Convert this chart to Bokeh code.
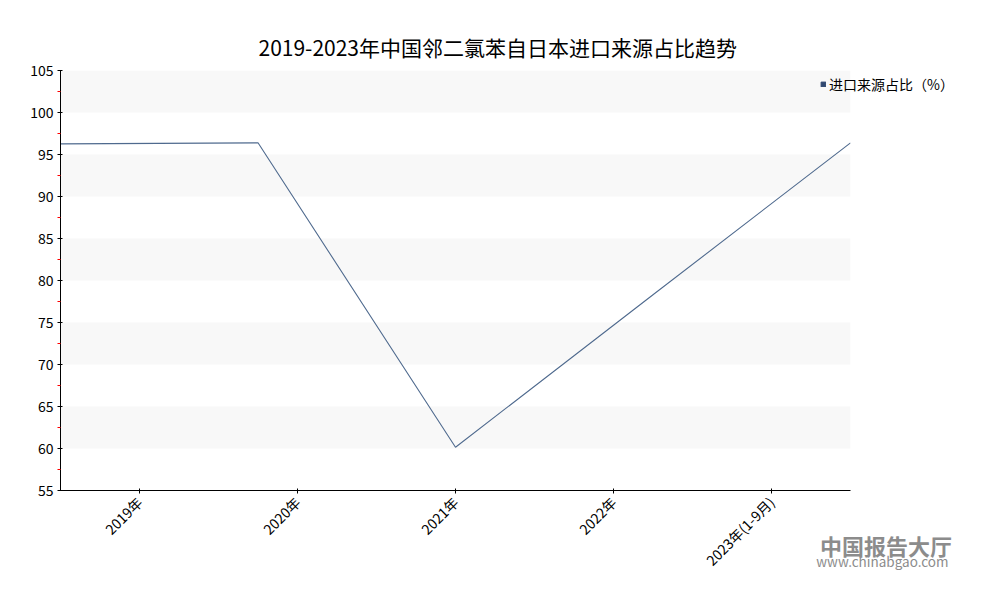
import math
from bokeh.plotting import figure
from bokeh.models import (Range1d, FixedTicker, Legend, LegendItem, Title, ColumnDataSource)
from bokeh.embed import file_html
from bokeh.resources import INLINE

categories = ["2019年", "2020年", "2021年", "2022年", "2023年(1-9月)"]
share = [96.27, 96.39, 60.15, 78.3, 96.39]
series_name = "进口来源占比（%）"
title_text = "2019-2023年中国邻二氯苯自日本进口来源占比趋势"
y_ticks = [55, 60, 65, 70, 75, 80, 85, 90, 95, 100, 105]
watermark_name = "中国报告大厅"
watermark_url = "www.chinabgao.com"

FONT = "Noto Sans CJK SC"
n = len(categories)
# line points spread across the full width, tick labels at category centres
xs = [i * n / (n - 1) for i in range(n)]
tick_pos = [i + 0.5 for i in range(n)]

p = figure(width=984, height=584, output_backend="svg", toolbar_location=None,
           x_range=Range1d(0, n), y_range=Range1d(55, 105), title=None,
           min_border_left=60, min_border_right=134, min_border_top=70, min_border_bottom=94)
p.frame_width = 790
p.frame_height = 420
p.outline_line_color = None
p.background_fill_color = "white"

src = ColumnDataSource(dict(x=xs, y=share))
line = p.line("x", "y", source=src, line_color="#4f6a8e", line_width=1.1)
# legend-only glyph, placed outside the visible ranges
dummy = p.quad(left=[-100], right=[-99], bottom=[-100], top=[-99],
               fill_color="#2f4770", line_color="#2f4770")

# axes
p.xaxis.ticker = FixedTicker(ticks=tick_pos)
p.xaxis.major_label_overrides = {t: c for t, c in zip(tick_pos, categories)}
p.xaxis.major_label_orientation = math.pi / 4
p.xaxis.minor_tick_line_color = None
p.yaxis.ticker = FixedTicker(ticks=y_ticks, minor_ticks=[v + 2.5 for v in y_ticks[:-1]])
for ax in (p.xaxis, p.yaxis):
    ax.axis_line_color = "black"
    ax.major_tick_line_color = "black"
    ax.major_tick_in = 2
    ax.major_tick_out = 3
    ax.major_label_text_font = FONT
    ax.major_label_text_font_size = "14px"
    ax.major_label_text_color = "black"
    ax.major_label_standoff = 4
p.xaxis.major_label_standoff = 6
p.yaxis.minor_tick_line_color = "red"
p.yaxis.minor_tick_in = 0
p.yaxis.minor_tick_out = 3

p.xgrid.grid_line_color = None
p.ygrid.ticker = FixedTicker(ticks=y_ticks)
p.ygrid.grid_line_color = None
p.ygrid.band_fill_color = "#f8f8f8"
p.ygrid.band_fill_alpha = 1

legend = Legend(items=[LegendItem(label=series_name, renderers=[dummy])],
                location=(-30, -71), border_line_color=None, background_fill_alpha=0,
                label_text_font=FONT, label_text_font_size="14px", label_text_color="black",
                glyph_width=6, glyph_height=6, label_standoff=3, padding=0, margin=0,
                title=watermark_name, title_location="below", title_standoff=435,
                title_text_font=FONT, title_text_font_size="22px",
                title_text_font_style="bold", title_text_color="#8c8c8c")
p.add_layout(legend, "right")

title = Title(text=title_text, align="left", offset=198, standoff=17,
              text_font=FONT, text_font_size="21px", text_font_style="normal",
              text_color="black")
p.add_layout(title, "above")

url = Title(text=watermark_url, align="right", offset=-98, standoff=-58,
            vertical_align="top",
            text_font=FONT, text_font_size="13.5px", text_font_style="normal",
            text_color="#8c8c8c")
p.add_layout(url, "below")

open("out.html", "w").write(file_html(p, INLINE))
